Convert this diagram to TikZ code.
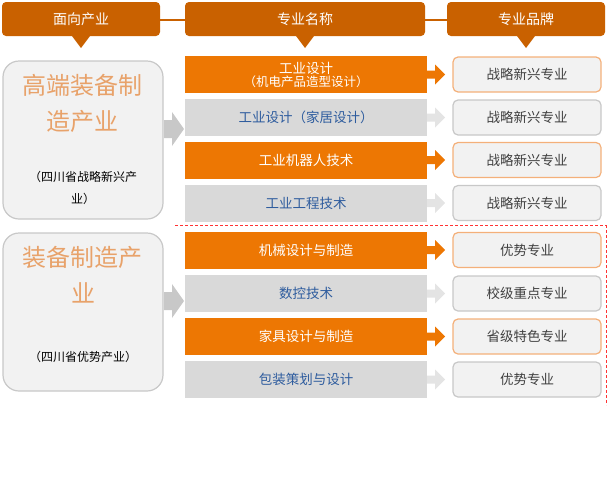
\documentclass[tikz,border=0pt]{standalone}
\usepackage{fontspec}
\setmainfont{Noto Sans CJK SC}
\begin{document}
\begin{tikzpicture}[x=1pt,y=-1pt,
 hdr/.style={fill=hdrc,rounded corners=4pt,text=white,font=\fontsize{14}{16}\selectfont,inner sep=0},
 orangerow/.style={fill=orc,text=white,font=\fontsize{13.5}{16}\selectfont,inner sep=0,align=center},
 grayrow/.style={fill=grc,text=bluet,font=\fontsize{13.5}{16}\selectfont,inner sep=0,align=center},
 obr/.style={fill=boxf,draw=obd,line width=1.2pt,rounded corners=5pt,font=\fontsize{13.5}{16}\selectfont,text=darkt,inner sep=0},
 gbr/.style={fill=boxf,draw=gbd,line width=1.2pt,rounded corners=5pt,font=\fontsize{13.5}{16}\selectfont,text=darkt,inner sep=0},
 big/.style={fill=boxf,draw=gbd,line width=1.2pt,rounded corners=16pt,inner sep=0},
 oarr/.style={fill=orc},
 garr/.style={fill=grc!70!white}]
\definecolor{hdrc}{HTML}{C96100}
\definecolor{orc}{HTML}{ED7703}
\definecolor{grc}{HTML}{D9D9D9}
\definecolor{bluet}{HTML}{2E5C9E}
\definecolor{boxf}{HTML}{F2F2F2}
\definecolor{obd}{HTML}{F4B07A}
\definecolor{gbd}{HTML}{C8C8C8}
\definecolor{darkt}{HTML}{404040}
\definecolor{bigt}{HTML}{E8A26A}
\useasboundingbox (0,0) rectangle (608,485);
% header connectors
\draw[hdrc,line width=2pt] (160,20) -- (447,20);
\node[hdr,minimum width=158,minimum height=34] (h1) at (81,19) {面向产业};
\node[hdr,minimum width=240,minimum height=34] (h2) at (305,19) {专业名称};
\node[hdr,minimum width=158,minimum height=34] (h3) at (526,19) {专业品牌};
\fill[hdrc] (72,36) -- (90,36) -- (81,48) -- cycle;
\fill[hdrc] (296,36) -- (314,36) -- (305,48) -- cycle;
\fill[hdrc] (517,36) -- (535,36) -- (526,48) -- cycle;
% left boxes
\node[big,minimum width=160,minimum height=158] (l1) at (83,140) {};
\node[text=bigt,font=\fontsize{24}{36}\selectfont,align=center] (l1t) at (83,103) {高端装备制\\造产业};
\node[text=black,font=\fontsize{12}{22}\selectfont,align=center] (l1s) at (83,188) {（四川省战略新兴产\\业）};
\node[big,minimum width=160,minimum height=158] (l2) at (83,312) {};
\node[text=bigt,font=\fontsize{24}{36}\selectfont,align=center] (l2t) at (83,275) {装备制造产\\业};
\node[text=black,font=\fontsize{12}{22}\selectfont] (l2s) at (83,357) {（四川省优势产业）};
\fill[gbd] (164,120) -- (172,120) -- (172,112) -- (184,129) -- (172,146) -- (172,138) -- (164,138) -- cycle;
\fill[gbd] (164,292) -- (172,292) -- (172,284) -- (184,301) -- (172,318) -- (172,310) -- (164,310) -- cycle;
% dashed separator
\draw[red!80,densely dashed,line width=0.5pt] (175,225) -- (606,225);
\draw[red!80,densely dashed,line width=0.5pt] (606,225) -- (606,405);
% rows
\foreach \y/\t/\s/\b/\bs [count=\i] in {
 74.5/{工业设计\\[-3pt]{\fontsize{12.5}{14}\selectfont（机电产品造型设计）}}/orangerow/战略新兴专业/obr,
 117.5/工业设计（家居设计）/grayrow/战略新兴专业/gbr,
 160/工业机器人技术/orangerow/战略新兴专业/obr,
 203/工业工程技术/grayrow/战略新兴专业/gbr,
 250/机械设计与制造/orangerow/优势专业/obr,
 293.5/数控技术/grayrow/校级重点专业/gbr,
 336.5/家具设计与制造/orangerow/省级特色专业/obr,
 379.5/包装策划与设计/grayrow/优势专业/gbr}{
 \node[\s,minimum width=242,minimum height=37] (r\i) at (306,\y) {\t};
 \node[\bs,minimum width=148,minimum height=35] (b\i) at (527,\y) {\b};
}
\foreach \i/\st in {1/oarr,2/garr,3/oarr,4/garr,5/oarr,6/garr,7/oarr,8/garr}{
 \path (r\i.east) coordinate (a\i);
 \fill[\st] ([shift={(0,-4)}]a\i) -- ([shift={(8,-4)}]a\i) -- ([shift={(8,-10)}]a\i) -- ([shift={(18,0)}]a\i) -- ([shift={(8,10)}]a\i) -- ([shift={(8,4)}]a\i) -- ([shift={(0,4)}]a\i) -- cycle;
}
\end{tikzpicture}
\end{document}
